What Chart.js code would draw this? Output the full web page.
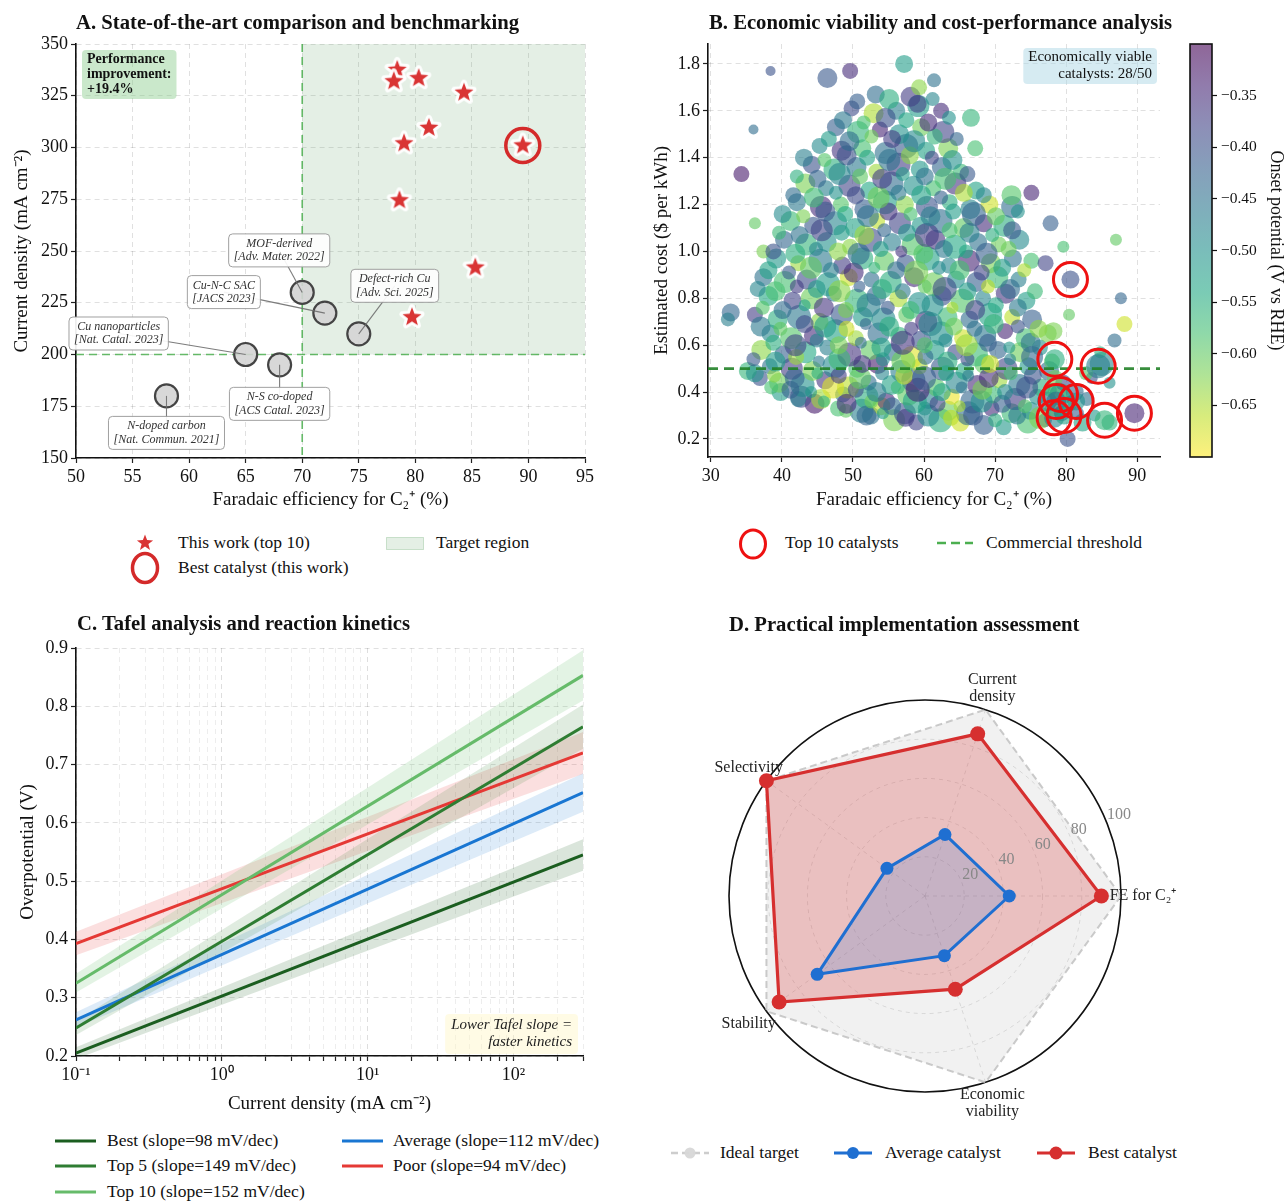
<!DOCTYPE html>
<html>
<head>
<meta charset="utf-8">
<title>Catalyst benchmarking</title>
<script src="https://cdn.jsdelivr.net/npm/chart.js@4.4.1/dist/chart.umd.min.js"></script>
<style>
  body { margin: 0; background: #fff; }
  #page { position: relative; width: 1287px; height: 1202px; overflow: hidden; font-family: "Liberation Serif", "Times New Roman", serif; color: #111; }
  #page canvas { position: absolute; }
  .txt { position: absolute; white-space: nowrap; line-height: 1; transform: translateY(-50%); font-size: 17.5px; }
  .mk { position: absolute; line-height: 0; }
</style>
</head>
<body>
<div id="page">
  <canvas id="chartA" width="640" height="520" style="left:0;top:0"></canvas>
  <canvas id="chartB" width="540" height="520" style="left:640px;top:0"></canvas>
  <canvas id="chartBar" width="107" height="520" style="left:1180px;top:0"></canvas>
  <canvas id="chartC" width="640" height="520" style="left:0;top:600px"></canvas>
  <canvas id="chartD" width="560" height="500" style="left:650px;top:640px"></canvas>
</div>
<script>
// ---------------- panel A: benchmarking ----------------
const feLit = [58, 65, 68, 70, 72, 75];
const cdLit = [180, 200, 195, 230, 220, 210];
const litNames = ['N-doped carbon', 'Cu nanoparticles', 'N-S co-doped', 'MOF-derived', 'Cu-N-C SAC', 'Defect-rich Cu'];
const litRefs = ['[Nat. Commun. 2021]', '[Nat. Catal. 2023]', '[ACS Catal. 2023]', '[Adv. Mater. 2022]', '[JACS 2023]', '[Adv. Sci. 2025]'];
const feWork = [78.4, 78.1, 80.3, 84.3, 81.2, 79.0, 89.5, 78.6, 85.3, 79.7];
const cdWork = [337.5, 332.0, 333.5, 326.5, 309.5, 302.0, 301.0, 274.5, 242.0, 218.0];
const bestWork = 6;
const targetFE = 70;
const targetCD = 200;
const improvementText = ['Performance', 'improvement:', '+19.4%'];

// ---------------- panel B: cost vs FE cloud ----------------
const cloudFE = [
  52.5, 55.8, 58.9, 62.3, 65.1, 68.4, 71.2, 74.6, 77.0, 82.3, 86.1,
  44.6, 47.9, 51.2, 54.0, 57.3, 60.1, 63.4, 66.2, 69.5, 72.3, 75.0, 78.1, 81.5,
  39.8, 42.7, 45.5, 48.6, 51.9, 54.7, 57.8, 60.6, 63.9, 66.8, 69.7, 72.8, 75.9, 78.8, 82.9,
  36.9, 39.6, 42.9, 46.1, 49.3, 52.2, 55.4, 58.5, 61.7, 64.6, 67.5, 70.6, 73.4, 76.5, 79.6,
  35.2, 38.3, 41.4, 44.3, 47.4, 50.6, 53.5, 56.8, 59.4, 62.6, 65.7, 68.5, 71.6, 74.7, 77.6, 85.0,
  37.1, 40.2, 43.3, 46.4, 49.5, 52.5, 55.6, 58.3, 61.5, 64.4, 67.3, 70.4, 73.5, 76.3,
  38.4, 41.3, 44.5, 47.6, 50.4, 53.6, 56.5, 59.6, 62.4, 65.5, 68.6, 71.4, 74.3, 77.4,
  36.2, 39.4, 42.4, 45.3, 48.4, 51.4, 54.3, 57.5, 60.3, 63.3, 66.4, 69.3, 72.4, 75.2,
  38.1, 41.5, 44.2, 47.3, 50.5, 53.3, 56.4, 59.3, 62.5, 65.4, 68.3, 71.5, 74.4,
  37.4, 40.4, 43.5, 46.5, 49.4, 52.6, 55.3, 58.6, 61.4, 64.5, 67.4, 70.3, 73.3,
  39.2, 42.3, 45.4, 48.5, 51.3, 54.4, 57.4, 60.5, 63.5, 66.3, 69.4, 72.5, 75.1,
  40.3, 43.4, 46.3, 49.6, 52.4, 55.5, 58.4, 61.6, 64.3, 67.6, 70.5, 73.4,
  41.2, 44.4, 47.5, 50.3, 53.4, 56.6, 59.5, 62.3, 65.6, 68.4, 71.3,
  42.1, 45.5, 48.3, 51.6, 54.5, 57.3, 60.4, 63.6, 66.5, 69.2, 72.4,
  43.3, 46.2, 49.5, 52.3, 55.4, 58.5, 61.3, 64.4, 67.3,
  44.2, 47.4, 50.5, 53.3, 56.4, 59.4, 62.5, 65.2,
  45.3, 48.4, 51.3, 54.6, 57.5, 60.3, 63.4,
  47.6, 50.7, 53.8, 56.5, 59.6, 62.7,
  49.8, 52.9, 56.1, 59.2, 62.4,
  53.2, 58.1,
  32.8, 32.4, 34.3, 38.4, 36.0, 57.2, 49.6, 46.4, 59.3, 61.4, 66.6, 67.2, 72.3, 75.1, 77.8,
  79.6, 87.0, 87.7, 88.2, 86.8, 84.8, 83.6, 80.2, 82.8, 86.1, 78.2, 80.4, 77.1, 36.2, 37.4,
  49.0, 51.9, 54.2, 57.4, 60.6, 63.8, 66.9, 70.0, 73.1, 76.3, 79.4, 84.0,
  42.3, 45.9, 49.1, 52.6, 55.5, 58.7, 61.9, 65.0, 68.1, 71.0, 74.2, 77.3, 80.4,
  38.5, 41.2, 44.1, 47.2, 50.4, 53.3, 56.3, 59.1, 62.5, 65.3, 68.2, 71.4, 74.5, 77.7, 81.2,
  36.2, 38.9, 41.8, 45.0, 48.0, 51.0, 54.1, 57.2, 60.0, 63.1, 66.2, 69.1, 72.2, 75.3, 78.4,
  36.0, 39.1, 42.0, 45.2, 48.1, 51.3, 54.2, 57.1, 60.2, 63.3, 66.1, 69.3, 72.1, 75.2, 78.0,
  38.8, 41.9, 44.9, 48.0, 51.1, 54.0, 57.0, 60.1, 63.0, 66.0, 69.0, 72.0, 75.0,
  37.0, 39.8, 43.2, 46.1, 49.1, 51.8, 55.1, 58.2, 60.9, 64.2, 67.1, 69.8, 73.2, 76.1,
  37.3, 40.1, 43.2, 45.9, 49.0, 52.2, 54.9, 58.1, 61.2, 64.0, 67.2, 70.1, 73.2,
  36.6, 39.1, 42.1, 44.9, 48.1, 50.9, 54.1, 57.0, 60.1, 62.9, 66.1, 69.0, 72.1, 75.6,
  38.1, 41.0, 44.1, 46.9, 50.1, 53.0, 56.1, 58.9, 62.1, 65.0, 68.1, 71.0, 74.1,
  38.8, 41.9, 44.8, 47.9, 50.8, 53.9, 56.8, 59.9, 62.8, 65.9, 68.8, 71.9,
  39.6, 42.5, 45.6, 48.4, 51.6, 54.4, 57.6, 60.4, 63.6, 66.4, 69.6, 72.4,
  40.1, 43.0, 46.1, 48.9, 52.1, 55.0, 58.1, 60.9, 64.1, 67.0, 70.1, 73.2,
  41.6, 44.5, 47.6, 50.4, 53.6, 56.4, 59.6, 62.4, 65.6, 68.4,
  42.1, 45.0, 48.1, 51.0, 54.1, 57.0, 60.1, 63.0, 66.1,
  43.1, 46.0, 49.1, 52.0, 55.1, 58.0, 61.1, 64.0,
  46.6, 49.5, 52.6, 55.5, 58.6, 61.5, 64.6,
  48.6, 51.5, 54.6, 57.5, 60.6, 63.5,
  50.6, 55.1, 59.1, 61.2
];
const cloudCost = [
  0.30, 0.28, 0.27, 0.28, 0.27, 0.26, 0.25, 0.27, 0.28, 0.27, 0.27,
  0.35, 0.33, 0.32, 0.34, 0.31, 0.33, 0.32, 0.31, 0.33, 0.31, 0.32, 0.33, 0.31,
  0.40, 0.38, 0.37, 0.39, 0.38, 0.36, 0.39, 0.37, 0.38, 0.36, 0.39, 0.37, 0.38, 0.40, 0.37,
  0.46, 0.44, 0.43, 0.45, 0.42, 0.44, 0.43, 0.45, 0.42, 0.44, 0.43, 0.45, 0.43, 0.42, 0.44,
  0.49, 0.51, 0.50, 0.49, 0.51, 0.50, 0.52, 0.49, 0.51, 0.50, 0.49, 0.52, 0.50, 0.51, 0.49, 0.52,
  0.58, 0.56, 0.57, 0.59, 0.56, 0.58, 0.57, 0.55, 0.58, 0.57, 0.56, 0.58, 0.57, 0.59,
  0.65, 0.63, 0.64, 0.66, 0.63, 0.65, 0.64, 0.62, 0.65, 0.63, 0.64, 0.66, 0.63, 0.65,
  0.73, 0.71, 0.72, 0.70, 0.73, 0.72, 0.71, 0.73, 0.70, 0.72, 0.71, 0.73, 0.72, 0.71,
  0.81, 0.79, 0.80, 0.82, 0.79, 0.81, 0.80, 0.78, 0.81, 0.79, 0.80, 0.82, 0.79,
  0.89, 0.87, 0.88, 0.86, 0.89, 0.88, 0.87, 0.89, 0.86, 0.88, 0.87, 0.89, 0.88,
  0.97, 0.95, 0.96, 0.94, 0.97, 0.96, 0.95, 0.97, 0.94, 0.96, 0.95, 0.97, 0.96,
  1.05, 1.03, 1.04, 1.02, 1.05, 1.04, 1.03, 1.05, 1.02, 1.04, 1.03, 1.05,
  1.13, 1.11, 1.12, 1.10, 1.13, 1.12, 1.11, 1.13, 1.10, 1.12, 1.11,
  1.21, 1.19, 1.20, 1.18, 1.21, 1.20, 1.19, 1.21, 1.18, 1.20, 1.19,
  1.29, 1.27, 1.28, 1.26, 1.29, 1.28, 1.27, 1.29, 1.26,
  1.37, 1.35, 1.36, 1.34, 1.37, 1.35, 1.36, 1.34,
  1.45, 1.43, 1.44, 1.42, 1.45, 1.43, 1.44,
  1.53, 1.51, 1.52, 1.50, 1.53, 1.51,
  1.61, 1.59, 1.60, 1.62, 1.60,
  1.67, 1.66,
  0.74, 0.71, 1.33, 1.77, 1.52, 1.80, 1.77, 1.74, 1.70, 1.73, 1.57, 1.44, 1.24, 1.25, 1.12,
  1.02, 1.05, 0.80, 0.69, 0.62, 0.57, 0.46, 0.20, 0.48, 0.44, 0.66, 0.73, 0.95, 1.12, 1.00,
  0.32, 0.30, 0.31, 0.29, 0.30, 0.29, 0.30, 0.28, 0.30, 0.29, 0.31, 0.30,
  0.37, 0.36, 0.35, 0.36, 0.34, 0.36, 0.35, 0.34, 0.36, 0.35, 0.34, 0.36, 0.35,
  0.42, 0.41, 0.40, 0.42, 0.41, 0.40, 0.42, 0.41, 0.40, 0.42, 0.41, 0.40, 0.42, 0.41, 0.40,
  0.48, 0.47, 0.46, 0.48, 0.47, 0.46, 0.48, 0.47, 0.46, 0.48, 0.47, 0.46, 0.48, 0.47, 0.46,
  0.54, 0.53, 0.55, 0.53, 0.54, 0.52, 0.54, 0.53, 0.55, 0.53, 0.54, 0.52, 0.54, 0.55, 0.53,
  0.61, 0.60, 0.62, 0.60, 0.61, 0.59, 0.61, 0.60, 0.62, 0.60, 0.61, 0.59, 0.61,
  0.68, 0.67, 0.69, 0.68, 0.67, 0.69, 0.68, 0.67, 0.69, 0.68, 0.67, 0.69, 0.68, 0.67,
  0.76, 0.75, 0.77, 0.76, 0.75, 0.77, 0.76, 0.75, 0.77, 0.76, 0.75, 0.77, 0.76,
  0.84, 0.83, 0.85, 0.84, 0.83, 0.85, 0.84, 0.83, 0.85, 0.84, 0.83, 0.85, 0.84, 0.83,
  0.92, 0.91, 0.93, 0.92, 0.91, 0.93, 0.92, 0.91, 0.93, 0.92, 0.91, 0.93, 0.92,
  1.00, 0.99, 1.01, 1.00, 0.99, 1.01, 1.00, 0.99, 1.01, 1.00, 0.99, 1.01,
  1.08, 1.07, 1.09, 1.08, 1.07, 1.09, 1.08, 1.07, 1.09, 1.08, 1.07, 1.09,
  1.16, 1.15, 1.17, 1.16, 1.15, 1.17, 1.16, 1.15, 1.17, 1.16, 1.15, 1.17,
  1.24, 1.23, 1.25, 1.24, 1.23, 1.25, 1.24, 1.23, 1.25, 1.24,
  1.32, 1.31, 1.33, 1.32, 1.31, 1.33, 1.32, 1.31, 1.33,
  1.40, 1.39, 1.41, 1.40, 1.39, 1.41, 1.40, 1.39,
  1.48, 1.47, 1.49, 1.48, 1.47, 1.49, 1.48,
  1.56, 1.55, 1.57, 1.56, 1.55, 1.57,
  1.64, 1.65, 1.63, 1.65
];
const cloudSize = [
  9, 11, 8, 12, 9, 10, 8, 11, 7, 9, 8,
  10, 8, 12, 9, 11, 7, 10, 12, 8, 10, 9, 8, 7,
  9, 11, 10, 8, 12, 9, 11, 10, 8, 12, 9, 11, 8, 10, 7,
  8, 10, 12, 9, 11, 8, 10, 12, 9, 11, 10, 8, 11, 9, 8,
  9, 8, 11, 10, 12, 9, 10, 11, 8, 12, 9, 10, 11, 9, 10, 12,
  10, 9, 11, 8, 12, 10, 9, 11, 10, 8, 12, 9, 10, 8,
  9, 11, 10, 12, 8, 11, 9, 10, 12, 9, 11, 8, 10, 9,
  8, 10, 12, 9, 11, 10, 12, 8, 11, 10, 9, 12, 8, 10,
  10, 9, 11, 8, 12, 10, 9, 11, 10, 12, 8, 10, 9,
  9, 11, 10, 12, 9, 8, 11, 10, 12, 9, 10, 11, 8,
  10, 8, 12, 9, 11, 10, 9, 12, 8, 11, 10, 9, 8,
  9, 11, 10, 8, 12, 9, 11, 10, 12, 9, 8, 10,
  10, 9, 12, 10, 8, 11, 9, 12, 10, 9, 11,
  9, 11, 8, 10, 12, 9, 11, 8, 10, 9, 11,
  10, 8, 11, 9, 12, 10, 8, 11, 9,
  9, 11, 10, 8, 12, 9, 10, 8,
  8, 10, 9, 11, 12, 9, 10,
  9, 11, 8, 10, 9, 11,
  8, 10, 9, 11, 8,
  9, 10,
  9, 7, 8, 5, 5, 9, 8, 10, 8, 7, 9, 8, 10, 8, 8,
  6, 6, 6, 8, 7, 6, 6, 8, 7, 6, 9, 6, 8, 6, 7,
  7, 10, 6, 9, 11, 8, 10, 7, 9, 11, 8, 6,
  8, 6, 10, 7, 9, 12, 8, 6, 11, 9, 7, 10, 8,
  7, 9, 6, 11, 8, 10, 7, 12, 9, 6, 10, 8, 11, 7, 9,
  9, 7, 10, 6, 8, 11, 7, 9, 12, 8, 6, 10, 7, 9, 8,
  7, 10, 8, 6, 11, 9, 7, 12, 8, 10, 7, 9, 6, 11, 8,
  8, 11, 7, 9, 6, 10, 12, 8, 7, 11, 9, 6, 10,
  10, 7, 9, 11, 8, 6, 10, 7, 12, 9, 8, 10, 7, 9,
  7, 9, 6, 10, 8, 12, 7, 9, 11, 6, 10, 8, 9,
  8, 10, 7, 9, 11, 6, 10, 8, 7, 12, 9, 7, 10, 8,
  9, 7, 11, 8, 10, 6, 9, 12, 7, 10, 8, 9, 7,
  8, 10, 7, 9, 11, 8, 6, 10, 9, 7, 11, 8,
  7, 9, 11, 8, 10, 7, 9, 12, 8, 10, 7, 9,
  9, 7, 10, 8, 11, 9, 7, 10, 8, 12, 9, 7,
  8, 10, 7, 9, 11, 8, 10, 7, 9, 8,
  7, 9, 11, 8, 10, 7, 9, 11, 8,
  9, 7, 10, 8, 11, 9, 7, 10,
  8, 10, 7, 9, 11, 8, 7,
  9, 7, 10, 8, 9, 7,
  8, 10, 9, 7
];
const cloudOnset = [
  -0.45, -0.62, -0.38, -0.55, -0.67, -0.42, -0.51, -0.58, -0.36, -0.53, -0.56,
  -0.33, -0.58, -0.47, -0.66, -0.40, -0.52, -0.61, -0.44, -0.35, -0.57, -0.49, -0.63, -0.41,
  -0.52, -0.39, -0.64, -0.46, -0.55, -0.34, -0.60, -0.48, -0.69, -0.43, -0.57, -0.37, -0.50, -0.62, -0.45,
  -0.40, -0.61, -0.50, -0.36, -0.66, -0.44, -0.53, -0.41, -0.59, -0.48, -0.35, -0.64, -0.46, -0.55, -0.39,
  -0.56, -0.45, -0.37, -0.62, -0.49, -0.58, -0.33, -0.47, -0.65, -0.41, -0.54, -0.60, -0.38, -0.51, -0.44, -0.48,
  -0.63, -0.42, -0.54, -0.47, -0.36, -0.60, -0.45, -0.68, -0.52, -0.39, -0.57, -0.43, -0.61, -0.50,
  -0.48, -0.59, -0.35, -0.53, -0.64, -0.44, -0.56, -0.40, -0.50, -0.67, -0.46, -0.34, -0.58, -0.62,
  -0.37, -0.55, -0.46, -0.63, -0.41, -0.52, -0.49, -0.60, -0.35, -0.57, -0.44, -0.53, -0.66, -0.42,
  -0.54, -0.38, -0.61, -0.47, -0.56, -0.43, -0.65, -0.50, -0.40, -0.59, -0.48, -0.36, -0.52,
  -0.45, -0.58, -0.39, -0.52, -0.67, -0.44, -0.55, -0.35, -0.61, -0.49, -0.42, -0.57, -0.47,
  -0.51, -0.64, -0.46, -0.37, -0.55, -0.60, -0.41, -0.53, -0.48, -0.34, -0.62, -0.45, -0.58,
  -0.43, -0.56, -0.50, -0.63, -0.39, -0.47, -0.59, -0.36, -0.54, -0.45, -0.61, -0.49,
  -0.57, -0.41, -0.48, -0.53, -0.66, -0.38, -0.51, -0.44, -0.60, -0.35, -0.55,
  -0.46, -0.35, -0.59, -0.42, -0.52, -0.63, -0.40, -0.55, -0.48, -0.67, -0.44,
  -0.62, -0.47, -0.38, -0.54, -0.44, -0.50, -0.58, -0.36, -0.53,
  -0.40, -0.55, -0.46, -0.64, -0.37, -0.51, -0.43, -0.57,
  -0.49, -0.36, -0.58, -0.45, -0.41, -0.53, -0.62,
  -0.42, -0.56, -0.34, -0.50, -0.61, -0.38,
  -0.39, -0.65, -0.47, -0.52, -0.35,
  -0.44, -0.37,
  -0.43, -0.47, -0.33, -0.40, -0.44, -0.52, -0.35, -0.41, -0.63, -0.45, -0.56, -0.58, -0.59, -0.34, -0.42,
  -0.58, -0.60, -0.43, -0.67, -0.44, -0.55, -0.40, -0.40, -0.59, -0.50, -0.62, -0.60, -0.38, -0.60, -0.62,
  -0.60, -0.43, -0.52, -0.37, -0.49, -0.66, -0.41, -0.55, -0.46, -0.62, -0.39, -0.51,
  -0.47, -0.56, -0.35, -0.61, -0.44, -0.53, -0.38, -0.65, -0.50, -0.42, -0.59, -0.46, -0.54,
  -0.58, -0.42, -0.51, -0.68, -0.39, -0.47, -0.57, -0.34, -0.53, -0.45, -0.62, -0.49, -0.40, -0.56, -0.44,
  -0.50, -0.63, -0.43, -0.55, -0.37, -0.60, -0.48, -0.66, -0.42, -0.54, -0.46, -0.35, -0.58, -0.40, -0.61,
  -0.41, -0.52, -0.64, -0.46, -0.57, -0.36, -0.50, -0.61, -0.44, -0.55, -0.39, -0.67, -0.48, -0.43, -0.59,
  -0.55, -0.38, -0.47, -0.62, -0.44, -0.53, -0.36, -0.59, -0.49, -0.64, -0.42, -0.51, -0.45,
  -0.46, -0.60, -0.39, -0.52, -0.67, -0.43, -0.55, -0.37, -0.48, -0.61, -0.45, -0.56, -0.40, -0.63,
  -0.59, -0.44, -0.53, -0.36, -0.62, -0.47, -0.41, -0.57, -0.50, -0.65, -0.38, -0.54, -0.46,
  -0.48, -0.58, -0.37, -0.51, -0.63, -0.42, -0.55, -0.46, -0.60, -0.39, -0.52, -0.66, -0.44, -0.57,
  -0.53, -0.41, -0.60, -0.47, -0.35, -0.56, -0.44, -0.62, -0.49, -0.58, -0.38, -0.52, -0.65,
  -0.40, -0.55, -0.48, -0.63, -0.44, -0.52, -0.36, -0.59, -0.46, -0.54, -0.42, -0.61,
  -0.57, -0.45, -0.38, -0.52, -0.64, -0.43, -0.50, -0.37, -0.58, -0.47, -0.55, -0.41,
  -0.49, -0.62, -0.41, -0.54, -0.45, -0.36, -0.58, -0.47, -0.52, -0.43, -0.60, -0.50,
  -0.44, -0.57, -0.50, -0.39, -0.61, -0.46, -0.53, -0.42, -0.65, -0.48,
  -0.55, -0.43, -0.48, -0.60, -0.37, -0.52, -0.45, -0.58, -0.41,
  -0.47, -0.59, -0.40, -0.53, -0.45, -0.63, -0.38, -0.50,
  -0.52, -0.44, -0.61, -0.37, -0.49, -0.56, -0.43,
  -0.46, -0.58, -0.40, -0.54, -0.35, -0.50,
  -0.42, -0.55, -0.38, -0.48
];
const topFE = [80.6, 78.4, 84.5, 79.2, 78.6, 81.4, 78.3, 79.7, 85.4, 89.6];
const topCost = [0.88, 0.54, 0.51, 0.39, 0.36, 0.36, 0.29, 0.30, 0.28, 0.31];
const topSize = [9, 10, 12, 11, 10, 9, 10, 9, 10, 10];
const topOnset = [-0.40, -0.55, -0.47, -0.52, -0.44, -0.50, -0.48, -0.53, -0.56, -0.34];
const costThreshold = 0.5;
const viableText = ['Economically viable', 'catalysts: 28/50'];
const onsetMin = -0.70, onsetMax = -0.30;

// ---------------- panel C: Tafel lines ----------------
const tafelNames = ['Best', 'Top 5', 'Top 10', 'Average', 'Poor'];
const tafelSlopes = [98, 149, 152, 112, 94];
const tafelJ = [0.1, 300];
const tafelEta = [[0.205, 0.545], [0.248, 0.765], [0.325, 0.853], [0.262, 0.652], [0.393, 0.720]];
const tafelLow = [[0.195, 0.518], [0.236, 0.727], [0.309, 0.810], [0.249, 0.619], [0.373, 0.684]];
const tafelHigh = [[0.215, 0.572], [0.260, 0.803], [0.341, 0.896], [0.275, 0.685], [0.413, 0.756]];
const tafelNote = ['Lower Tafel slope =', 'faster kinetics'];

// ---------------- panel D: radar ----------------
// axes in counter-clockwise order starting east
const radarAxes = ['FE for C₂⁺', ['Current', 'density'], 'Selectivity', 'Stability', ['Economic', 'viability']];
const idealScores = [100, 100, 100, 100, 100];
const avgScores = [43, 33, 24, 68, 32];
const bestScores = [90, 87, 100, 92, 50];
const radarTicks = [20, 40, 60, 80, 100];

// ======================================================
const FONT = '"Liberation Serif", "Times New Roman", serif';
Chart.defaults.font.family = FONT;
Chart.defaults.color = '#111';
Chart.defaults.animation = false;
Chart.defaults.responsive = false;
Chart.defaults.events = [];
Chart.defaults.plugins.legend.display = false;
Chart.defaults.plugins.tooltip.enabled = false;

const VIRIDIS = ['#440154', '#482475', '#414487', '#355f8d', '#2a788e', '#21918c', '#22a884', '#44bf70', '#7ad151', '#bddf26', '#fde725'];
const hex = h => [1, 3, 5].map(i => parseInt(h.substr(i, 2), 16));
function viridis(t, alpha) {
  t = Math.min(1, Math.max(0, t));
  const p = t * 10, i = Math.min(9, Math.floor(p)), f = p - i;
  const a = hex(VIRIDIS[i]), b = hex(VIRIDIS[i + 1]);
  const c = a.map((v, k) => Math.round(v + (b[k] - v) * f));
  return `rgba(${c[0]},${c[1]},${c[2]},${alpha})`;
}
// viridis reversed: high (less negative) onset = purple
const onsetColor = (v, alpha) => viridis((onsetMax - v) / (onsetMax - onsetMin), alpha);

function axis(o) {
  const ax = {
    type: o.type || 'linear',
    min: o.min, max: o.max,
    ticks: { autoSkip: false, maxRotation: 0, includeBounds: false, font: { size: 18 }, color: '#111', padding: 3 },
    grid: { color: o.grid || 'rgba(0,0,0,0.12)', lineWidth: 1, tickColor: '#222', tickLength: 5, tickWidth: 1.2 },
    border: { color: '#111', width: 1.6, dash: [5, 4] },
    title: { display: true, text: o.title, font: { size: 19 }, color: '#111', padding: o.pad },
    afterFit: s => { if (s.isHorizontal()) s.height = o.fit; else s.width = o.fit; }
  };
  if (o.step) ax.ticks.stepSize = o.step;
  if (o.fmt) ax.ticks.callback = o.fmt;
  return ax;
}

// box with several text lines; anchor: c (center), tl, tr, br
function drawBox(ctx, ax, ay, anchor, lines, lh, padX, padY, fill, stroke, color, align) {
  const w = Math.max(...lines.map(s => ctx.measureText(s).width)) + 2 * padX;
  const h = lines.length * lh + 2 * padY;
  let x0 = ax - w / 2, y0 = ay - h / 2;
  if (anchor === 'tl') { x0 = ax; y0 = ay; }
  if (anchor === 'tr') { x0 = ax - w; y0 = ay; }
  if (anchor === 'br') { x0 = ax - w; y0 = ay - h; }
  ctx.beginPath();
  ctx.roundRect(x0, y0, w, h, 4);
  ctx.fillStyle = fill; ctx.fill();
  if (stroke) { ctx.strokeStyle = stroke; ctx.lineWidth = 1; ctx.stroke(); }
  ctx.fillStyle = color;
  ctx.textBaseline = 'middle';
  ctx.textAlign = align;
  const tx = align === 'center' ? x0 + w / 2 : align === 'right' ? x0 + w - padX : x0 + padX;
  lines.forEach((s, k) => ctx.fillText(s, tx, y0 + padY + lh * (k + 0.5)));
}

function starImage(outer, fill, edge, edgeW) {
  const size = Math.ceil(2 * outer + 2 * edgeW + 2);
  const c = document.createElement('canvas');
  c.width = size; c.height = size;
  const g = c.getContext('2d');
  g.beginPath();
  for (let i = 0; i < 10; i++) {
    const r = i % 2 ? outer * 0.42 : outer;
    const a = -Math.PI / 2 + i * Math.PI / 5;
    g.lineTo(size / 2 + r * Math.cos(a), size / 2 + r * Math.sin(a));
  }
  g.closePath();
  g.lineJoin = 'round';
  if (edgeW) { g.lineWidth = edgeW; g.strokeStyle = edge; g.stroke(); }
  g.fillStyle = fill; g.fill();
  return c;
}

// ---------------- chart A ----------------
const litBoxOffset = [[0, 37], [-127, -21], [0, 39], [-23, -42], [-101, -21], [36, -48]];
const panelA = {
  id: 'panelA',
  beforeDatasetsDraw(chart) {
    const { ctx, chartArea: a, scales: { x, y } } = chart;
    const x0 = x.getPixelForValue(targetFE), y0 = y.getPixelForValue(targetCD);
    ctx.save();
    ctx.fillStyle = 'rgba(76,150,80,0.15)';
    ctx.fillRect(x0, a.top, a.right - x0, y0 - a.top);
    ctx.strokeStyle = 'rgba(76,175,80,0.85)';
    ctx.lineWidth = 1.6;
    ctx.setLineDash([8, 5]);
    ctx.beginPath();
    ctx.moveTo(x0, a.top); ctx.lineTo(x0, a.bottom);
    ctx.moveTo(a.left, y0); ctx.lineTo(a.right, y0);
    ctx.stroke();
    ctx.restore();
  },
  afterDatasetsDraw(chart) {
    const { ctx, chartArea: a, scales: { x, y } } = chart;
    ctx.save();
    ctx.font = 'italic 12px ' + FONT;
    feLit.forEach((fe, i) => {
      const px = x.getPixelForValue(fe), py = y.getPixelForValue(cdLit[i]);
      const bx = px + litBoxOffset[i][0], by = py + litBoxOffset[i][1];
      ctx.strokeStyle = 'rgba(110,110,110,0.9)';
      ctx.lineWidth = 1.1;
      ctx.beginPath(); ctx.moveTo(px, py); ctx.lineTo(bx, by); ctx.stroke();
      drawBox(ctx, bx, by, 'c', [litNames[i], litRefs[i]], 13.5, 5, 3, 'rgba(255,255,255,0.92)', 'rgba(150,150,150,0.9)', '#333', 'center');
    });
    ctx.font = 'bold 14px ' + FONT;
    drawBox(ctx, a.left + 6, a.top + 6, 'tl', improvementText, 15, 5, 2, 'rgba(129,199,132,0.42)', null, '#111', 'left');
    ctx.restore();
  }
};

new Chart(document.getElementById('chartA'), {
  type: 'scatter',
  data: {
    datasets: [
      { data: [{ x: feWork[bestWork], y: cdWork[bestWork] }], pointRadius: 17, pointBorderWidth: 3.5, pointBorderColor: '#d42a2a', pointBackgroundColor: 'rgba(0,0,0,0)' },
      { data: feWork.map((x, i) => ({ x, y: cdWork[i] })), pointStyle: starImage(10, '#d93434', 'rgba(255,255,255,0.95)', 6), pointRadius: 10 },
      { data: feLit.map((x, i) => ({ x, y: cdLit[i] })), pointRadius: 11.5, pointBorderWidth: 2.2, pointBorderColor: '#444', pointBackgroundColor: 'rgba(212,212,212,0.9)' }
    ]
  },
  options: {
    layout: { padding: { left: 0, right: 55, top: 44, bottom: 0 } },
    scales: {
      x: axis({ min: 50, max: 95, step: 5, title: 'Faradaic efficiency for C₂⁺ (%)', fit: 62, pad: { top: 0, bottom: 9 } }),
      y: axis({ min: 150, max: 350, step: 25, title: 'Current density (mA cm⁻²)', fit: 76, pad: { top: 11, bottom: 0 } })
    }
  },
  plugins: [panelA]
});

// ---------------- chart B ----------------
const panelB = {
  id: 'panelB',
  afterDatasetDraw(chart, args) {
    if (args.index !== 1) return;
    const { ctx, chartArea: a, scales: { y } } = chart;
    const py = y.getPixelForValue(costThreshold);
    ctx.save();
    ctx.strokeStyle = 'rgba(34,130,40,0.9)';
    ctx.lineWidth = 2.6;
    ctx.setLineDash([10, 6]);
    ctx.beginPath(); ctx.moveTo(a.left, py); ctx.lineTo(a.right, py); ctx.stroke();
    ctx.restore();
  },
  afterDatasetsDraw(chart) {
    const { ctx, chartArea: a } = chart;
    ctx.save();
    ctx.font = '15px ' + FONT;
    drawBox(ctx, a.right - 3, a.top + 4, 'tr', viableText, 17, 5, 1, 'rgba(173,216,230,0.5)', null, '#111', 'right');
    ctx.restore();
  }
};

new Chart(document.getElementById('chartB'), {
  type: 'bubble',
  data: {
    datasets: [
      { type: 'scatter', data: topFE.map((x, i) => ({ x, y: topCost[i] })), pointRadius: 17, pointBorderWidth: 3, pointBorderColor: '#ee1111', pointBackgroundColor: 'rgba(0,0,0,0)' },
      { data: topFE.map((x, i) => ({ x, y: topCost[i], r: topSize[i] })), backgroundColor: topOnset.map(v => onsetColor(v, 0.6)), borderWidth: 0 },
      { data: cloudFE.map((x, i) => ({ x, y: cloudCost[i], r: cloudSize[i] })), backgroundColor: cloudOnset.map(v => onsetColor(v, 0.6)), borderWidth: 0 }
    ]
  },
  options: {
    layout: { padding: { left: 0, right: 10, top: 44, bottom: 0 } },
    scales: {
      x: axis({ min: 29.6, max: 93.2, step: 10, title: 'Faradaic efficiency for C₂⁺ (%)', fit: 63, pad: { top: 0, bottom: 9 } }),
      y: axis({ min: 0.123, max: 1.885, step: 0.2, title: 'Estimated cost ($ per kWh)', fit: 68, pad: { top: 11, bottom: 0 }, fmt: v => v.toFixed(1) })
    }
  },
  plugins: [panelB]
});

// colorbar
const colorbar = {
  id: 'colorbar',
  beforeDatasetsDraw(chart) {
    const { ctx, chartArea: a } = chart;
    const g = ctx.createLinearGradient(0, a.top, 0, a.bottom);
    for (let i = 0; i <= 10; i++) g.addColorStop(i / 10, viridis(i / 10, 0.6));
    ctx.save();
    ctx.fillStyle = g;
    ctx.fillRect(a.left, a.top, a.width, a.height);
    ctx.strokeStyle = '#111'; ctx.lineWidth = 1.6;
    ctx.strokeRect(a.left, a.top, a.width, a.height);
    ctx.restore();
  }
};
new Chart(document.getElementById('chartBar'), {
  type: 'scatter',
  data: { datasets: [] },
  options: {
    layout: { padding: { left: 10, right: 0, top: 44, bottom: 63 } },
    scales: {
      x: { display: false },
      y: {
        position: 'right', min: onsetMin, max: onsetMax,
        ticks: { stepSize: 0.05, includeBounds: false, font: { size: 15.5 }, color: '#111', padding: 4, callback: v => (v < -0.005 ? '−' : '') + Math.abs(v).toFixed(2) },
        afterBuildTicks: s => { s.ticks = s.ticks.filter(t => t.value > onsetMin + 0.01 && t.value < onsetMax - 0.01); },
        grid: { drawOnChartArea: false, drawTicks: true, tickLength: 5, tickColor: '#111', tickWidth: 1.2 },
        border: { display: false },
        title: { display: true, text: 'Onset potential (V vs RHE)', font: { size: 18 }, color: '#111', padding: { top: 0, bottom: 0 } },
        afterFit: s => { s.width = 75; }
      }
    }
  },
  plugins: [colorbar]
});

// ---------------- chart C ----------------
const tafelColors = ['#1b5e20', '#2e7d32', '#66bb6a', '#1976d2', '#e53935'];
const tafelBands = ['rgba(27,94,32,0.16)', 'rgba(46,125,50,0.15)', 'rgba(102,187,106,0.18)', 'rgba(25,118,210,0.15)', 'rgba(229,57,53,0.16)'];
const SUP = { '-': '⁻', '0': '⁰', '1': '¹', '2': '²', '3': '³' };
const isPow10 = v => { const e = Math.log10(v); return Math.abs(e - Math.round(e)) < 1e-6; };

const tafelSets = tafelNames.map((n, i) => ({
  label: n, data: tafelJ.map((x, k) => ({ x, y: tafelEta[i][k] })),
  borderColor: tafelColors[i], borderWidth: 3, pointRadius: 0, fill: false
}));
tafelNames.forEach((n, i) => {
  tafelSets.push({ data: tafelJ.map((x, k) => ({ x, y: tafelLow[i][k] })), borderWidth: 0, pointRadius: 0, fill: false });
  tafelSets.push({ data: tafelJ.map((x, k) => ({ x, y: tafelHigh[i][k] })), borderWidth: 0, pointRadius: 0, fill: '-1', backgroundColor: tafelBands[i] });
});

const panelC = {
  id: 'panelC',
  afterDatasetsDraw(chart) {
    const { ctx, chartArea: a } = chart;
    ctx.save();
    ctx.font = 'italic 15px ' + FONT;
    drawBox(ctx, a.right - 5, a.bottom - 2, 'br', tafelNote, 17, 6, 3, 'rgba(255,246,190,0.4)', null, '#222', 'right');
    ctx.restore();
  }
};

const xLog = axis({
  type: 'logarithmic', min: 0.1, max: 300, title: 'Current density (mA cm⁻²)', fit: 64, pad: { top: 0, bottom: 5 },
  fmt: v => isPow10(v) ? '10' + String(Math.round(Math.log10(v))).split('').map(c => SUP[c]).join('') : ''
});
xLog.grid.color = c => (c.tick && isPow10(c.tick.value)) ? 'rgba(0,0,0,0.13)' : 'rgba(0,0,0,0.07)';
xLog.afterBuildTicks = s => {
  s.ticks = s.ticks.filter(t => {
    const m = t.value / Math.pow(10, Math.floor(Math.log10(t.value) + 1e-9));
    return Math.abs(m - Math.round(m)) < 1e-6;
  });
};

new Chart(document.getElementById('chartC'), {
  type: 'line',
  data: { datasets: tafelSets },
  options: {
    layout: { padding: { left: 0, right: 57, top: 48, bottom: 0 } },
    scales: {
      x: xLog,
      y: axis({ min: 0.2, max: 0.9, step: 0.1, title: 'Overpotential (V)', fit: 76, pad: { top: 17, bottom: 0 }, fmt: v => v.toFixed(1) })
    }
  },
  plugins: [panelC]
});

// ---------------- chart D ----------------
const cw = a => [a[0], a[4], a[3], a[2], a[1]]; // Chart.js walks clockwise
const panelD = {
  id: 'panelD',
  beforeDatasetsDraw(chart) {
    const r = chart.scales.r, ctx = chart.ctx;
    ctx.save();
    ctx.strokeStyle = '#111'; ctx.lineWidth = 1.6;
    ctx.beginPath();
    ctx.arc(r.xCenter, r.yCenter, r.getDistanceFromCenterForValue(r.max), 0, 2 * Math.PI);
    ctx.stroke();
    ctx.restore();
  },
  afterDatasetsDraw(chart) {
    const r = chart.scales.r, ctx = chart.ctx;
    ctx.save();
    ctx.fillStyle = '#888';
    ctx.font = '16px ' + FONT;
    ctx.textAlign = 'left'; ctx.textBaseline = 'bottom';
    const ang = 22.5 * Math.PI / 180;
    radarTicks.forEach(v => {
      const d = r.getDistanceFromCenterForValue(v);
      ctx.fillText(String(v), r.xCenter + d * Math.cos(ang) + 1, r.yCenter - d * Math.sin(ang) + 2);
    });
    ctx.fillStyle = '#222';
    ctx.font = '16px ' + FONT;
    ctx.textAlign = 'center'; ctx.textBaseline = 'middle';
    chart.data.labels.forEach((lab, i) => {
      const p = r.getPointPosition(i, r.drawingArea * 1.112);
      const lines = Array.isArray(lab) ? lab : [lab];
      lines.forEach((s, k) => ctx.fillText(s, p.x, p.y + (k - (lines.length - 1) / 2) * 17));
    });
    ctx.restore();
  }
};

new Chart(document.getElementById('chartD'), {
  type: 'radar',
  data: {
    labels: cw(radarAxes),
    datasets: [
      { data: cw(avgScores), borderColor: '#1f6fd1', backgroundColor: 'rgba(31,111,209,0.18)', borderWidth: 3, pointRadius: 6.5, pointBackgroundColor: '#1f6fd1', pointBorderWidth: 0, fill: true },
      { data: cw(bestScores), borderColor: '#d62f2f', backgroundColor: 'rgba(214,47,47,0.25)', borderWidth: 3.2, pointRadius: 7.5, pointBackgroundColor: '#d62f2f', pointBorderWidth: 0, fill: true },
      { data: cw(idealScores), borderColor: 'rgba(190,190,190,0.8)', borderDash: [7, 4], backgroundColor: 'rgba(200,200,200,0.25)', borderWidth: 2, pointRadius: 0, fill: true }
    ]
  },
  options: {
    layout: { padding: { left: 79, right: 89, top: 60, bottom: 48 } },
    elements: { line: { tension: 0 } },
    scales: {
      r: {
        min: 0, max: 100, startAngle: 90,
        ticks: { display: false, stepSize: 20 },
        pointLabels: { display: false },
        grid: { circular: true, color: 'rgba(0,0,0,0.14)', lineWidth: 1 },
        border: { dash: [4, 4] },
        angleLines: { color: 'rgba(0,0,0,0.14)', lineWidth: 1, borderDash: [4, 4] }
      }
    }
  },
  plugins: [panelD]
});

// ---------------- titles and legends (HTML) ----------------
const page = document.getElementById('page');
function text(str, x, y, opts = {}) {
  const d = document.createElement('div');
  d.className = 'txt';
  d.textContent = str;
  d.style.left = x + 'px';
  d.style.top = y + 'px';
  if (opts.size) d.style.fontSize = opts.size + 'px';
  if (opts.bold) d.style.fontWeight = 'bold';
  page.appendChild(d);
}
function mark(x, y, w, h, inner) {
  const d = document.createElement('div');
  d.className = 'mk';
  d.style.left = x + 'px';
  d.style.top = y + 'px';
  d.innerHTML = `<svg xmlns="http://www.w3.org/2000/svg" width="${w}" height="${h}">${inner}</svg>`;
  page.appendChild(d);
}
function starPath(cx, cy, R) {
  const pts = [];
  for (let i = 0; i < 10; i++) {
    const r = i % 2 ? R * 0.42 : R, a = -Math.PI / 2 + i * Math.PI / 5;
    pts.push((cx + r * Math.cos(a)).toFixed(1) + ',' + (cy + r * Math.sin(a)).toFixed(1));
  }
  return pts.join(' ');
}

text('A. State-of-the-art comparison and benchmarking', 76, 22, { size: 20.7, bold: true });
text('B. Economic viability and cost-performance analysis', 709, 22, { size: 20.7, bold: true });
text('C. Tafel analysis and reaction kinetics', 77, 623, { size: 20.7, bold: true });
text('D. Practical implementation assessment', 729, 624, { size: 20.7, bold: true });

// legend A
mark(133, 531, 24, 24, `<polygon points="${starPath(12, 12, 8.5)}" fill="#d93434"/>`);
text('This work (top 10)', 178, 543);
mark(128, 551, 34, 34, '<ellipse cx="17" cy="17" rx="12.5" ry="14.5" fill="none" stroke="#d42a2a" stroke-width="3.5"/>');
text('Best catalyst (this work)', 178, 568);
mark(386, 537, 38, 14, '<rect x="0.5" y="0.5" width="37" height="12" fill="rgba(76,150,80,0.15)" stroke="rgba(76,150,80,0.25)"/>');
text('Target region', 436, 543);

// legend B
mark(737, 527, 32, 34, '<ellipse cx="16" cy="17" rx="12.5" ry="14" fill="none" stroke="#ee1111" stroke-width="3"/>');
text('Top 10 catalysts', 785, 543);
mark(936, 538, 38, 10, '<line x1="1" y1="5" x2="37" y2="5" stroke="#4caf50" stroke-width="2.6" stroke-dasharray="9,5"/>');
text('Commercial threshold', 986, 543);

// legend C (two columns, column-major like the original)
const legC = [[55, 107, 1141], [55, 107, 1166], [55, 107, 1192], [342, 393, 1141], [342, 393, 1166]];
tafelNames.forEach((n, i) => {
  const [lx, tx, ty] = legC[i];
  mark(lx, ty - 5, 42, 10, `<line x1="0" y1="5" x2="41" y2="5" stroke="${tafelColors[i]}" stroke-width="3.2"/>`);
  text(`${n} (slope=${tafelSlopes[i]} mV/dec)`, tx, ty);
});

// legend D
mark(670, 1146, 40, 14, '<line x1="1" y1="7" x2="39" y2="7" stroke="rgba(200,200,200,0.9)" stroke-width="2.4" stroke-dasharray="7,4"/><circle cx="20" cy="7" r="5.5" fill="rgba(215,215,215,0.95)"/>');
text('Ideal target', 720, 1153);
mark(833, 1146, 40, 14, '<line x1="1" y1="7" x2="39" y2="7" stroke="#1f6fd1" stroke-width="3"/><circle cx="20" cy="7" r="6" fill="#1f6fd1"/>');
text('Average catalyst', 885, 1153);
mark(1036, 1146, 40, 14, '<line x1="1" y1="7" x2="39" y2="7" stroke="#d62f2f" stroke-width="3"/><circle cx="20" cy="7" r="6.5" fill="#d62f2f"/>');
text('Best catalyst', 1088, 1153);
</script>
</body>
</html>
